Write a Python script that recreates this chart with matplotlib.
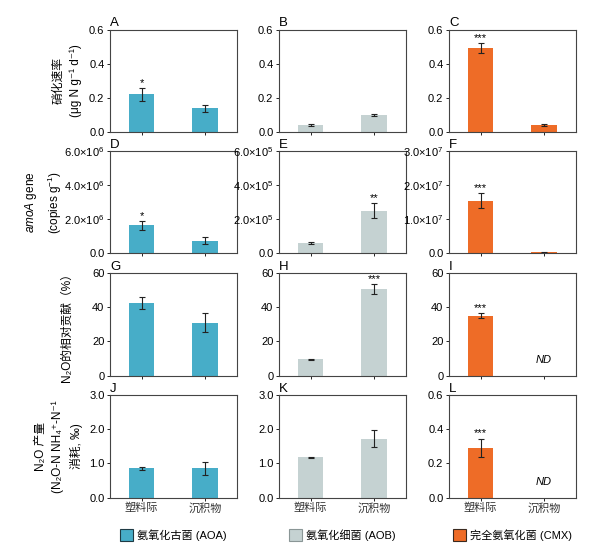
import matplotlib
matplotlib.use("Agg")
import matplotlib.pyplot as plt
from matplotlib.patches import Patch
import numpy as np

plt.rcParams['font.family'] = ['Liberation Sans', 'Noto Sans CJK SC', 'DejaVu Sans']
plt.rcParams['mathtext.fontset'] = 'custom'
plt.rcParams['mathtext.rm'] = 'Liberation Sans'
plt.rcParams['mathtext.it'] = 'Liberation Sans:italic'
plt.rcParams['axes.unicode_minus'] = False

sites = ["塑料际", "沉积物"]
groups = ["氨氧化古菌 (AOA)", "氨氧化细菌 (AOB)", "完全氨氧化菌 (CMX)"]
colors = ["#47ADC8", "#C5D2D2", "#EE6C27"]
edges = ["#1f3a44", "#8a9696", "#3a2a20"]

# rows: nitrification rate, amoA gene, N2O contribution, N2O yield
# each row: [AOA, AOB, CMX] -> [plastisphere, sediment]
rate = [[0.22, 0.14], [0.04, 0.10], [0.49, 0.04]]
rate_err = [[0.04, 0.02], [0.005, 0.004], [0.03, 0.005]]
gene = [[1.65e6, 0.75e6], [0.6e5, 2.5e5], [1.55e7, 0.03e7]]
gene_err = [[0.25e6, 0.2e6], [0.05e5, 0.45e5], [0.22e7, 0.02e7]]
contrib = [[42.5, 31.0], [9.5, 50.5], [35.0, np.nan]]
contrib_err = [[3.5, 5.5], [0.4, 3.0], [1.5, np.nan]]
yield_ = [[0.85, 0.85], [1.18, 1.72], [0.29, np.nan]]
yield_err = [[0.05, 0.18], [0.02, 0.25], [0.055, np.nan]]

stars = [["*", "", "***"], ["*", "**", "***"], ["", "***", "***"], ["", "", "***"]]
star_idx = [[0, 1, 0], [0, 1, 0], [0, 1, 0], [0, 0, 0]]

ylims = [[0.6, 0.6, 0.6], [6e6, 6e5, 3e7], [60, 60, 60], [3.0, 3.0, 0.6]]
yticks = [
    [[0, 0.2, 0.4, 0.6]] * 3,
    [[0, 2e6, 4e6, 6e6], [0, 2e5, 4e5, 6e5], [0, 1e7, 2e7, 3e7]],
    [[0, 20, 40, 60]] * 3,
    [[0, 1, 2, 3], [0, 1, 2, 3], [0, 0.2, 0.4, 0.6]],
]
ytick_labels = [
    [["0.0", "0.2", "0.4", "0.6"]] * 3,
    [["0.0", "2.0×10$^6$", "4.0×10$^6$", "6.0×10$^6$"],
     ["0.0", "2.0×10$^5$", "4.0×10$^5$", "6.0×10$^5$"],
     ["0.0", "1.0×10$^7$", "2.0×10$^7$", "3.0×10$^7$"]],
    [["0", "20", "40", "60"]] * 3,
    [["0.0", "1.0", "2.0", "3.0"], ["0.0", "1.0", "2.0", "3.0"], ["0.0", "0.2", "0.4", "0.6"]],
]
ylabels = [
    "硝化速率\n(μg N g⁻¹ d⁻¹)",
    "$amoA$ gene\n(copies g$^{-1}$)",
    "N₂O的相对贡献（%）",
    "N₂O 产量\n(N₂O-N NH₄⁺-N⁻¹\n消耗, ‰)",
]
# right edge of each y label block, in pixels from the left
ylabel_right = [82, 64, 73, 83]
letters = "ABCDEFGHIJKL"

values = [rate, gene, contrib, yield_]
errors = [rate_err, gene_err, contrib_err, yield_err]

W, H = 599, 556
fig = plt.figure(figsize=(W / 100, H / 100), dpi=100)

lefts = [110, 279, 449]
tops = [29.5, 151, 273, 395]
aw, ah = 126.5, 102.5

x = np.arange(2)
for r in range(4):
    for c in range(3):
        ax = fig.add_axes([lefts[c] / W, 1 - (tops[r] + ah) / H, aw / W, ah / H])
        v = np.array(values[r][c])
        e = np.array(errors[r][c])
        ok = ~np.isnan(v)
        ax.bar(x[ok], v[ok], width=0.4, color=colors[c])
        ax.errorbar(x[ok], v[ok], yerr=e[ok], fmt="none", ecolor="#222222",
                    elinewidth=0.8, capsize=2.5, capthick=0.8)
        if not ok[1]:
            ax.text(1, ylims[r][c] * 0.15, "ND", style="italic", ha="center",
                    va="center", fontsize=8)
        if stars[r][c]:
            i = star_idx[r][c]
            ax.text(i, v[i] + e[i], stars[r][c],
                    ha="center", va="bottom", fontsize=8)
        ax.set_xlim(-0.5, 1.5)
        ax.set_ylim(0, ylims[r][c])
        ax.set_yticks(yticks[r][c])
        ax.set_yticklabels(ytick_labels[r][c])
        ax.set_xticks(x)
        if r == 3:
            ax.set_xticklabels(sites, fontsize=8, color="#333333")
        else:
            ax.set_xticklabels([])
        ax.tick_params(labelsize=8, length=2.5, width=0.6, pad=1.5)
        for s in ax.spines.values():
            s.set_linewidth(0.8)
            s.set_color("#444444")
        ax.text(0, 1.0, letters[r * 3 + c], transform=ax.transAxes,
                ha="left", va="bottom", fontsize=9.5)
        if c == 0:
            ax.set_ylabel(ylabels[r], fontsize=8.5, linespacing=1.55)
            ax.yaxis.set_label_coords((ylabel_right[r] - lefts[0]) / aw, 0.5)

for c in range(3):
    lax = fig.add_axes([lefts[c] / W, 1 - 550 / H, aw / W, 30 / H])
    lax.axis("off")
    lax.legend(handles=[Patch(facecolor=colors[c], edgecolor=edges[c], linewidth=0.8)],
               labels=[groups[c]], loc="center", frameon=False, fontsize=8,
               handlelength=1.2, handleheight=1.2, handletextpad=0.3)

fig.savefig("out.png", dpi=100)
